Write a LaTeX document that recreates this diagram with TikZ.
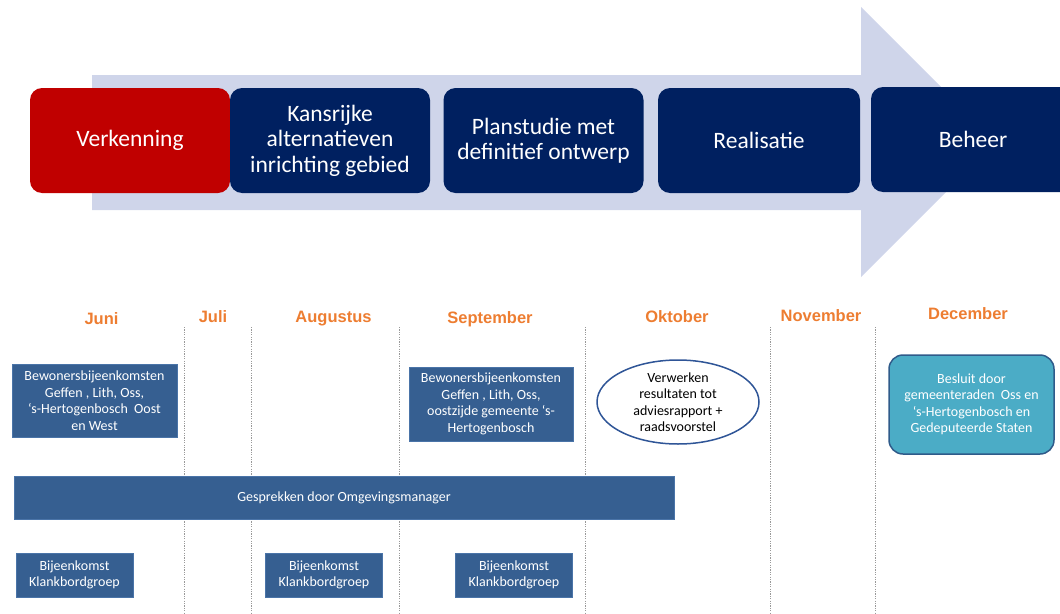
\documentclass[tikz,border=0pt]{standalone}
\usepackage{fontspec}
\setmainfont{Carlito}
\newfontfamily\monthfont{Liberation Sans}
\usetikzlibrary{shapes.geometric}
\definecolor{navy}{HTML}{002060}
\definecolor{phasered}{HTML}{C00000}
\definecolor{arrowgrey}{HTML}{CFD5EA}
\definecolor{monthorange}{HTML}{ED7D31}
\definecolor{taskblue}{HTML}{365F91}
\definecolor{taskedge}{HTML}{4A74A8}
\definecolor{decisionfill}{HTML}{4BACC6}
\definecolor{decisionedge}{HTML}{2F5B8A}
\definecolor{ovaledge}{HTML}{2F5597}
\begin{document}
\begin{tikzpicture}[x=1pt, y=-1pt,
        phase/.style = {rectangle, rounded corners=12pt, fill=navy, text=white, inner sep=0pt,
            minimum width=200pt, minimum height=105pt, align=center, font=\fontsize{23.5}{25.5}\selectfont},
        month/.style = {text=monthorange, inner sep=0pt, font=\monthfont\fontsize{16.5}{18}\selectfont\bfseries},
        task/.style = {rectangle, fill=taskblue, draw=taskedge, line width=0.8pt, text=white, inner sep=0pt,
            align=center, font=\fontsize{14}{16.5}\selectfont},
        divider/.style = {black!40, line width=1pt, dash pattern=on 1.2pt off 1.2pt}
    ]
        \clip (0,0) rectangle (1060,613);
        % big arrow behind the phases
        \fill[arrowgrey] (92,75) -- (861,75) -- (861,7) -- (996,142) -- (861,277) -- (861,210) -- (92,210) -- cycle;
        \node[phase, fill=phasered] (verk) at (130,140.5) {Verkenning};
        \node[phase] (kans) at (330,140.5) {Kansrijke\\alternatieven\\inrichting gebied};
        \node[phase] (plan) at (543.5,140.5) {Planstudie met\\definitief ontwerp};
        \node[phase, minimum width=202pt] (real) at (759,140.5) {Realisatie};
        \node[phase, minimum width=204pt] (beh) at (973,139.5) {Beheer};
        % months
        \foreach \x in {184,251,399,585,770,875}
            \draw[divider] (\x,327) -- (\x,613);
        \node[month] (jun) at (101.5,319) {Juni};
        \node[month] (jul) at (213,317) {Juli};
        \node[month] (aug) at (333.5,319) {Augustus};
        \node[month] (sep) at (490,319) {September};
        \node[month] (okt) at (677,317) {Oktober};
        \node[month] (nov) at (821,316) {November};
        \node[month] (dec) at (968,314) {December};
        % activities
        \node[task, minimum width=165pt, minimum height=73pt] (bewjun) at (94.5,400.5)
            {Bewonersbijeenkomsten\\Geffen , Lith, Oss,\\‘s-Hertogenbosch\ \ Oost\\en West};
        \node[task, minimum width=164pt, minimum height=74pt] (bewsep) at (491,404)
            {Bewonersbijeenkomsten\\Geffen , Lith, Oss,\\oostzijde gemeente ‘s-\\Hertogenbosch};
        \node[ellipse, draw=ovaledge, line width=1.5pt, fill=white, inner sep=0pt, minimum width=162pt,
            minimum height=84pt, align=center, font=\fontsize{14}{16.5}\selectfont] (verw) at (678,402)
            {Verwerken\\resultaten tot\\adviesrapport +\\raadsvoorstel};
        \node[task, rounded corners=14pt, fill=decisionfill, draw=decisionedge, line width=1.5pt,
            minimum width=165pt, minimum height=99pt] (besl) at (971.5,404.5)
            {Besluit door\\gemeenteraden\ \ Oss en\\‘s-Hertogenbosch en\\Gedeputeerde Staten};
        \node[task, minimum width=660pt, minimum height=43pt] (gespr) at (344,497.5)
            {Gesprekken door Omgevingsmanager};
        \node[task, minimum width=117pt, minimum height=44pt] (kbjun) at (74.5,575) {Bijeenkomst\\Klankbordgroep};
        \node[task, minimum width=117pt, minimum height=44pt] (kbaug) at (324,575) {Bijeenkomst\\Klankbordgroep};
        \node[task, minimum width=117pt, minimum height=44pt] (kbsep) at (514,575) {Bijeenkomst\\Klankbordgroep};
    \end{tikzpicture}
\end{document}
